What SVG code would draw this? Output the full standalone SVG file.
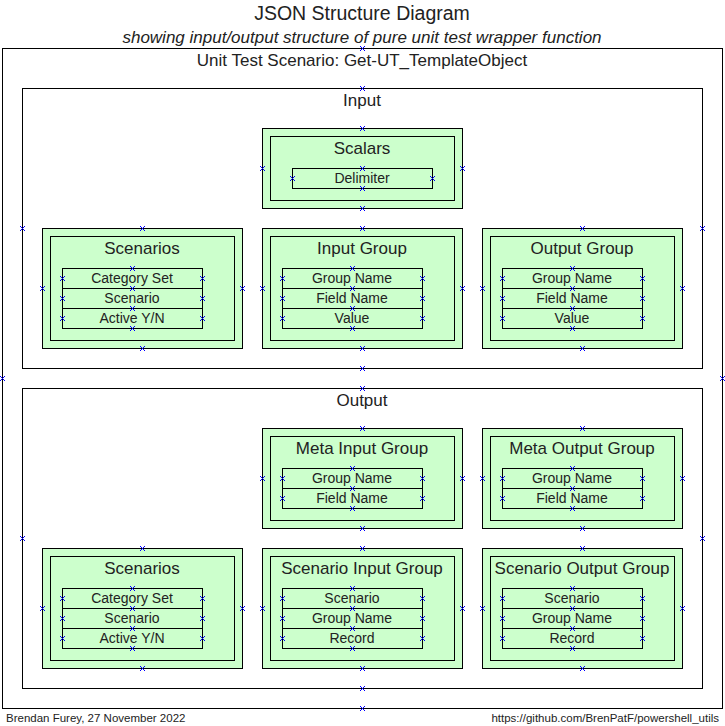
<svg xmlns="http://www.w3.org/2000/svg" xmlns:xlink="http://www.w3.org/1999/xlink" width="725" height="726" viewBox="0 0 725 726">
<style>
text{font-family:"Liberation Sans",Arial,sans-serif;fill:#222;text-anchor:middle}
.t{font-size:19.5px}
.st{font-size:17px;font-style:italic}
.h{font-size:17px}
.r{font-size:14px}
.f{font-size:11.5px}
.frame{fill:none;stroke:#000;stroke-width:1}
.node{fill:#ccffcc;stroke:#000;stroke-width:1}
.row{fill:none;stroke:#000;stroke-width:1}
.mk{stroke:#0000ff;stroke-width:1;fill:none}
</style>
<defs>
<path id="x" class="mk" d="M-2.5,-2.5L2.5,2.5M-2.5,2.5L2.5,-2.5"/>
</defs>
<rect width="725" height="726" fill="#fff"/>
<text class="t" x="362" y="20">JSON Structure Diagram</text>
<text class="st" x="362" y="43">showing input/output structure of pure unit test wrapper function</text>

<g id="scenario-frame">
<rect class="frame" x="2.5" y="48.5" width="720" height="660"/>
<text class="h" x="362" y="66">Unit Test Scenario: Get-UT_TemplateObject</text>
</g>
<g id="input-frame">
<rect class="frame" x="22.5" y="88.5" width="680" height="280"/>
<text class="h" x="362" y="106">Input</text>
</g>
<g id="output-frame">
<rect class="frame" x="22.5" y="388.5" width="680" height="300"/>
<text class="h" x="362" y="406">Output</text>
</g>

<g id="in-scalars">
<rect class="node" x="262.5" y="128.5" width="200" height="80"/>
<rect class="node" x="270.5" y="136.5" width="184" height="64"/>
<text class="h" x="362" y="154">Scalars</text>
<rect class="row" x="292.5" y="168.5" width="140" height="20"/>
<text class="r" x="362" y="183">Delimiter</text>
</g>

<g id="in-scenarios">
<rect class="node" x="42.5" y="228.5" width="200" height="120"/>
<rect class="node" x="50.5" y="236.5" width="184" height="104"/>
<text class="h" x="142" y="254">Scenarios</text>
<rect class="row" x="62.5" y="268.5" width="140" height="20"/>
<rect class="row" x="62.5" y="288.5" width="140" height="20"/>
<rect class="row" x="62.5" y="308.5" width="140" height="20"/>
<text class="r" x="132" y="283">Category Set</text>
<text class="r" x="132" y="303">Scenario</text>
<text class="r" x="132" y="323">Active Y/N</text>
</g>

<g id="in-input-group">
<rect class="node" x="262.5" y="228.5" width="200" height="120"/>
<rect class="node" x="270.5" y="236.5" width="184" height="104"/>
<text class="h" x="362" y="254">Input Group</text>
<rect class="row" x="282.5" y="268.5" width="140" height="20"/>
<rect class="row" x="282.5" y="288.5" width="140" height="20"/>
<rect class="row" x="282.5" y="308.5" width="140" height="20"/>
<text class="r" x="352" y="283">Group Name</text>
<text class="r" x="352" y="303">Field Name</text>
<text class="r" x="352" y="323">Value</text>
</g>

<g id="in-output-group">
<rect class="node" x="482.5" y="228.5" width="200" height="120"/>
<rect class="node" x="490.5" y="236.5" width="184" height="104"/>
<text class="h" x="582" y="254">Output Group</text>
<rect class="row" x="502.5" y="268.5" width="140" height="20"/>
<rect class="row" x="502.5" y="288.5" width="140" height="20"/>
<rect class="row" x="502.5" y="308.5" width="140" height="20"/>
<text class="r" x="572" y="283">Group Name</text>
<text class="r" x="572" y="303">Field Name</text>
<text class="r" x="572" y="323">Value</text>
</g>

<g id="out-meta-input-group">
<rect class="node" x="262.5" y="428.5" width="200" height="100"/>
<rect class="node" x="270.5" y="436.5" width="184" height="84"/>
<text class="h" x="362" y="454">Meta Input Group</text>
<rect class="row" x="282.5" y="468.5" width="140" height="20"/>
<rect class="row" x="282.5" y="488.5" width="140" height="20"/>
<text class="r" x="352" y="483">Group Name</text>
<text class="r" x="352" y="503">Field Name</text>
</g>

<g id="out-meta-output-group">
<rect class="node" x="482.5" y="428.5" width="200" height="100"/>
<rect class="node" x="490.5" y="436.5" width="184" height="84"/>
<text class="h" x="582" y="454">Meta Output Group</text>
<rect class="row" x="502.5" y="468.5" width="140" height="20"/>
<rect class="row" x="502.5" y="488.5" width="140" height="20"/>
<text class="r" x="572" y="483">Group Name</text>
<text class="r" x="572" y="503">Field Name</text>
</g>

<g id="out-scenarios">
<rect class="node" x="42.5" y="548.5" width="200" height="120"/>
<rect class="node" x="50.5" y="556.5" width="184" height="104"/>
<text class="h" x="142" y="574">Scenarios</text>
<rect class="row" x="62.5" y="588.5" width="140" height="20"/>
<rect class="row" x="62.5" y="608.5" width="140" height="20"/>
<rect class="row" x="62.5" y="628.5" width="140" height="20"/>
<text class="r" x="132" y="603">Category Set</text>
<text class="r" x="132" y="623">Scenario</text>
<text class="r" x="132" y="643">Active Y/N</text>
</g>

<g id="out-scenario-input-group">
<rect class="node" x="262.5" y="548.5" width="200" height="120"/>
<rect class="node" x="270.5" y="556.5" width="184" height="104"/>
<text class="h" x="362" y="574">Scenario Input Group</text>
<rect class="row" x="282.5" y="588.5" width="140" height="20"/>
<rect class="row" x="282.5" y="608.5" width="140" height="20"/>
<rect class="row" x="282.5" y="628.5" width="140" height="20"/>
<text class="r" x="352" y="603">Scenario</text>
<text class="r" x="352" y="623">Group Name</text>
<text class="r" x="352" y="643">Record</text>
</g>

<g id="out-scenario-output-group">
<rect class="node" x="482.5" y="548.5" width="200" height="120"/>
<rect class="node" x="490.5" y="556.5" width="184" height="104"/>
<text class="h" x="582" y="574">Scenario Output Group</text>
<rect class="row" x="502.5" y="588.5" width="140" height="20"/>
<rect class="row" x="502.5" y="608.5" width="140" height="20"/>
<rect class="row" x="502.5" y="628.5" width="140" height="20"/>
<text class="r" x="572" y="603">Scenario</text>
<text class="r" x="572" y="623">Group Name</text>
<text class="r" x="572" y="643">Record</text>
</g>

<g id="connectors">
<use href="#x" x="362.5" y="48.5"/><use href="#x" x="362.5" y="708.5"/><use href="#x" x="2.5" y="378.5"/><use href="#x" x="722.5" y="378.5"/>
<use href="#x" x="362.5" y="88.5"/><use href="#x" x="362.5" y="368.5"/><use href="#x" x="22.5" y="228.5"/><use href="#x" x="702.5" y="228.5"/>
<use href="#x" x="362.5" y="388.5"/><use href="#x" x="362.5" y="688.5"/><use href="#x" x="22.5" y="538.5"/><use href="#x" x="702.5" y="538.5"/>
<use href="#x" x="362.5" y="128.5"/><use href="#x" x="362.5" y="208.5"/><use href="#x" x="262.5" y="168.5"/><use href="#x" x="462.5" y="168.5"/>
<use href="#x" x="362.5" y="168.5"/><use href="#x" x="362.5" y="188.5"/><use href="#x" x="292.5" y="178.5"/><use href="#x" x="432.5" y="178.5"/>
<use href="#x" x="142.5" y="228.5"/><use href="#x" x="142.5" y="348.5"/><use href="#x" x="42.5" y="288.5"/><use href="#x" x="242.5" y="288.5"/>
<use href="#x" x="132.5" y="268.5"/><use href="#x" x="132.5" y="288.5"/><use href="#x" x="132.5" y="308.5"/><use href="#x" x="132.5" y="328.5"/>
<use href="#x" x="62.5" y="278.5"/><use href="#x" x="62.5" y="298.5"/><use href="#x" x="62.5" y="318.5"/>
<use href="#x" x="202.5" y="278.5"/><use href="#x" x="202.5" y="298.5"/><use href="#x" x="202.5" y="318.5"/>
<use href="#x" x="362.5" y="228.5"/><use href="#x" x="362.5" y="348.5"/><use href="#x" x="262.5" y="288.5"/><use href="#x" x="462.5" y="288.5"/>
<use href="#x" x="352.5" y="268.5"/><use href="#x" x="352.5" y="288.5"/><use href="#x" x="352.5" y="308.5"/><use href="#x" x="352.5" y="328.5"/>
<use href="#x" x="282.5" y="278.5"/><use href="#x" x="282.5" y="298.5"/><use href="#x" x="282.5" y="318.5"/>
<use href="#x" x="422.5" y="278.5"/><use href="#x" x="422.5" y="298.5"/><use href="#x" x="422.5" y="318.5"/>
<use href="#x" x="582.5" y="228.5"/><use href="#x" x="582.5" y="348.5"/><use href="#x" x="482.5" y="288.5"/><use href="#x" x="682.5" y="288.5"/>
<use href="#x" x="572.5" y="268.5"/><use href="#x" x="572.5" y="288.5"/><use href="#x" x="572.5" y="308.5"/><use href="#x" x="572.5" y="328.5"/>
<use href="#x" x="502.5" y="278.5"/><use href="#x" x="502.5" y="298.5"/><use href="#x" x="502.5" y="318.5"/>
<use href="#x" x="642.5" y="278.5"/><use href="#x" x="642.5" y="298.5"/><use href="#x" x="642.5" y="318.5"/>
<use href="#x" x="362.5" y="428.5"/><use href="#x" x="362.5" y="528.5"/><use href="#x" x="262.5" y="478.5"/><use href="#x" x="462.5" y="478.5"/>
<use href="#x" x="352.5" y="468.5"/><use href="#x" x="352.5" y="488.5"/><use href="#x" x="352.5" y="508.5"/>
<use href="#x" x="282.5" y="478.5"/><use href="#x" x="282.5" y="498.5"/><use href="#x" x="422.5" y="478.5"/><use href="#x" x="422.5" y="498.5"/>
<use href="#x" x="582.5" y="428.5"/><use href="#x" x="582.5" y="528.5"/><use href="#x" x="482.5" y="478.5"/><use href="#x" x="682.5" y="478.5"/>
<use href="#x" x="572.5" y="468.5"/><use href="#x" x="572.5" y="488.5"/><use href="#x" x="572.5" y="508.5"/>
<use href="#x" x="502.5" y="478.5"/><use href="#x" x="502.5" y="498.5"/><use href="#x" x="642.5" y="478.5"/><use href="#x" x="642.5" y="498.5"/>
<use href="#x" x="142.5" y="548.5"/><use href="#x" x="142.5" y="668.5"/><use href="#x" x="42.5" y="608.5"/><use href="#x" x="242.5" y="608.5"/>
<use href="#x" x="132.5" y="588.5"/><use href="#x" x="132.5" y="608.5"/><use href="#x" x="132.5" y="628.5"/><use href="#x" x="132.5" y="648.5"/>
<use href="#x" x="62.5" y="598.5"/><use href="#x" x="62.5" y="618.5"/><use href="#x" x="62.5" y="638.5"/>
<use href="#x" x="202.5" y="598.5"/><use href="#x" x="202.5" y="618.5"/><use href="#x" x="202.5" y="638.5"/>
<use href="#x" x="362.5" y="548.5"/><use href="#x" x="362.5" y="668.5"/><use href="#x" x="262.5" y="608.5"/><use href="#x" x="462.5" y="608.5"/>
<use href="#x" x="352.5" y="588.5"/><use href="#x" x="352.5" y="608.5"/><use href="#x" x="352.5" y="628.5"/><use href="#x" x="352.5" y="648.5"/>
<use href="#x" x="282.5" y="598.5"/><use href="#x" x="282.5" y="618.5"/><use href="#x" x="282.5" y="638.5"/>
<use href="#x" x="422.5" y="598.5"/><use href="#x" x="422.5" y="618.5"/><use href="#x" x="422.5" y="638.5"/>
<use href="#x" x="582.5" y="548.5"/><use href="#x" x="582.5" y="668.5"/><use href="#x" x="482.5" y="608.5"/><use href="#x" x="682.5" y="608.5"/>
<use href="#x" x="572.5" y="588.5"/><use href="#x" x="572.5" y="608.5"/><use href="#x" x="572.5" y="628.5"/><use href="#x" x="572.5" y="648.5"/>
<use href="#x" x="502.5" y="598.5"/><use href="#x" x="502.5" y="618.5"/><use href="#x" x="502.5" y="638.5"/>
<use href="#x" x="642.5" y="598.5"/><use href="#x" x="642.5" y="618.5"/><use href="#x" x="642.5" y="638.5"/>
</g>

<text class="f" x="6" y="722" style="text-anchor:start">Brendan Furey, 27 November 2022</text>
<text class="f" x="719" y="722" style="text-anchor:end">https://github.com/BrenPatF/powershell_utils</text>
</svg>
